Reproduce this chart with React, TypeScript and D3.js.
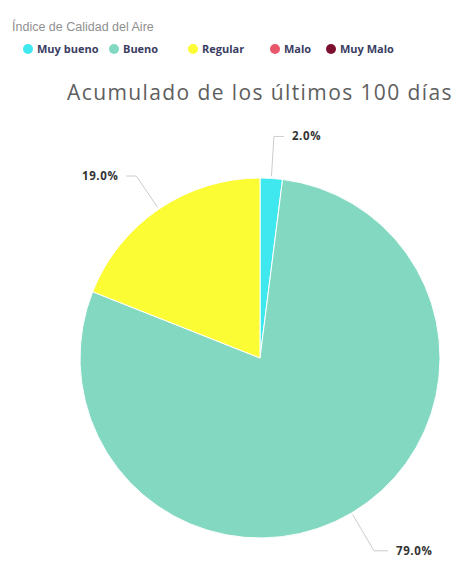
import React from "react";
import * as d3 from "d3";

const categories = ["Muy bueno", "Bueno", "Regular", "Malo", "Muy Malo"];
const values = [2.0, 79.0, 19.0, 0, 0];
const colors = ["#3FE7EF", "#82D8C1", "#FCFC34", "#E8566C", "#7D0F2E"];
const legendTitle = "Índice de Calidad del Aire";
const chartTitle = "Acumulado de los últimos 100 días";

const W = 463;
const H = 563;
const cx = 260;
const cy = 358;
const R = 180;

export default function App() {
  const data = categories.map((c, i) => ({ c, v: values[i], color: colors[i] }));
  const pie = d3
    .pie<any>()
    .sort(null)
    .value((d) => d.v)
    .startAngle(0)
    .endAngle(2 * Math.PI);
  const arcs = pie(data).filter((a) => a.data.v > 0);
  const arc = d3.arc<any>().innerRadius(0).outerRadius(R);
  const fmt = d3.format(".1f");

  const legendX = [28, 114, 193, 275, 331];
  const bends: Record<string, number> = { "Muy bueno": R + 42, Bueno: R + 44, Regular: R + 40 };
  const tails: Record<string, number> = { "Muy bueno": 10, Bueno: 14, Regular: 10 };

  return (
    <svg
      width={W}
      height={H}
      style={{ position: "absolute", left: 0, top: 0, background: "#fff" }}
      fontFamily="'Open Sans', sans-serif"
    >
      <text x={12} y={31} fontSize={12.5} fill="#8f8f8f" fontFamily="'Liberation Sans', Arial, sans-serif">
        {legendTitle}
      </text>
      {categories.map((c, i) => (
        <g key={c} transform={`translate(${legendX[i]},49)`}>
          <circle r={5} fill={colors[i]} />
          <text x={9} y={4} fontSize={11} fontWeight={700} fill="#3a3d63">
            {c}
          </text>
        </g>
      ))}
      <text x={260} y={100} fontSize={21} fill="#5e5e5e" textAnchor="middle" letterSpacing={1.4}>
        {chartTitle}
      </text>
      <g transform={`translate(${cx},${cy})`}>
        {arcs.map((a) => (
          <path key={a.data.c} d={arc(a) as string} fill={a.data.color} stroke="#fff" strokeWidth={1} />
        ))}
        {arcs.map((a) => {
          const mid = (a.startAngle + a.endAngle) / 2;
          const sx = Math.sin(mid);
          const sy = -Math.cos(mid);
          const p0 = [sx * (R + 2), sy * (R + 2)];
          const bend = bends[a.data.c];
          const p1 = [sx * bend, sy * bend];
          const dir = sx >= 0 ? 1 : -1;
          const p2 = [p1[0] + dir * tails[a.data.c], p1[1]];
          const lx = p2[0] + dir * 8;
          return (
            <g key={"l" + a.data.c}>
              <polyline
                points={[p0, p1, p2].map((p) => p.join(",")).join(" ")}
                fill="none"
                stroke="#cccccc"
                strokeWidth={1}
              />
              <text
                x={lx}
                y={p2[1] + 4}
                fontSize={11.5}
                fontWeight={700}
                fill="#333"
                letterSpacing={0.6}
                textAnchor={dir > 0 ? "start" : "end"}
              >
                {fmt(a.data.v)}%
              </text>
            </g>
          );
        })}
      </g>
    </svg>
  );
}
